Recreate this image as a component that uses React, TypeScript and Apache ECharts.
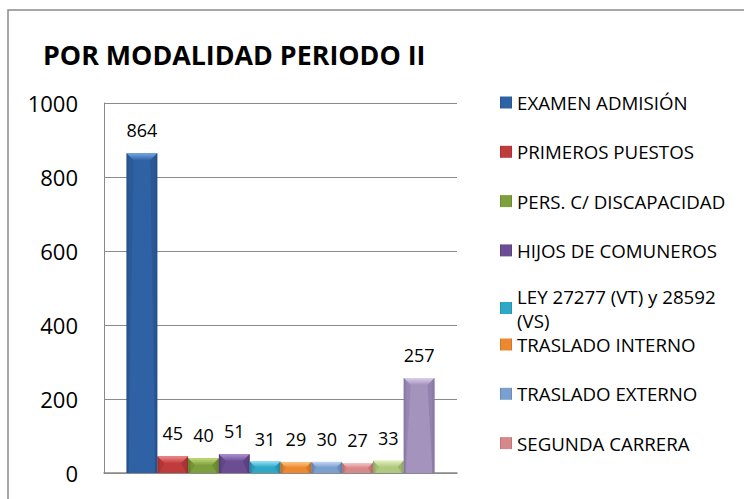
import React, { useEffect, useRef } from "react";
import * as echarts from "echarts";

const TITLE = "POR MODALIDAD PERIODO II";
const seriesNames = [
  "EXAMEN ADMISIÓN",
  "PRIMEROS PUESTOS",
  "PERS. C/ DISCAPACIDAD",
  "HIJOS DE COMUNEROS",
  "LEY 27277 (VT) y 28592 (VS)",
  "TRASLADO INTERNO",
  "TRASLADO EXTERNO",
  "SEGUNDA CARRERA",
  "DEPORTISTAS CALIFICADOS",
  "CENTRO PREUNIVERSITARIO",
];
const seriesValues = [864, 45, 40, 51, 31, 29, 30, 27, 33, 257];
const yTicks = { min: 0, max: 1000, interval: 200 };

const bodyColors = ["#2E62A5", "#BF3B3C", "#7EA03C", "#6B4D94", "#2EA8C6", "#EC8930", "#7B9FCF", "#D7888A", "#B0C97F", "#A493BD"];
const topColors = ["#74A5E6", "#F08A8A", "#C0DD78", "#AE93D6", "#8EE0F4", "#FDC482", "#C0D7F4", "#F8C4C4", "#E2F0BC", "#DDD1EA"];
const edgeColors = ["#244E85", "#972D2E", "#5F7A2C", "#523A73", "#23839B", "#BC6A22", "#5E7DA6", "#B1696B", "#8BA063", "#8372A0"];

const CAT_GAP = 0.1275;
const FONT = "'Open Sans', 'Liberation Sans', sans-serif";

export default function App() {
  const ref = useRef<HTMLDivElement>(null);
  useEffect(() => {
    document.body.style.margin = "0";
    if (!ref.current) return;
    const chart = echarts.init(ref.current, undefined, { renderer: "svg" });
    const n = seriesValues.length;

    const barSeries = seriesValues.map((v, i) => ({
      type: "bar",
      name: seriesNames[i],
      data: [v],
      barGap: "0%",
      barCategoryGap: CAT_GAP * 100 + "%",
      itemStyle: {
        color: new echarts.graphic.LinearGradient(0, 0, 1, 0, [
          { offset: 0, color: edgeColors[i] },
          { offset: 0.1, color: bodyColors[i] },
          { offset: 0.9, color: bodyColors[i] },
          { offset: 1, color: edgeColors[i] },
        ]),
      },
      label: {
        show: true,
        position: "top",
        distance: 14,
        color: "#000",
        fontSize: 18,
        fontFamily: FONT,
      },
      z: 2,
    }));

    const bevel = {
      type: "custom",
      silent: true,
      z: 3,
      data: seriesValues.map((v, i) => [0, v, i]),
      encode: { x: 0, y: 1 },
      renderItem: (params: any, api: any) => {
        const i = api.value(2);
        const v = api.value(1);
        const top = api.coord([0, v]);
        const base = api.coord([0, 0]);
        const band = api.size([1, 0])[0];
        const total = band * (1 - CAT_GAP);
        const w = total / n;
        const x0 = top[0] - total / 2 + i * w;
        const x1 = x0 + w;
        const yT = top[1];
        const b = Math.min(7, (base[1] - yT) / 2);
        return {
          type: "group",
          children: [
            {
              type: "polygon",
              shape: { points: [[x0, yT], [x1, yT], [x1 - b, yT + b], [x0 + b, yT + b]] },
              style: {
                fill: new echarts.graphic.LinearGradient(0, 0, 0, 1, [
                  { offset: 0, color: topColors[i] },
                  { offset: 1, color: bodyColors[i] },
                ]),
              },
            },
            {
              type: "polygon",
              shape: { points: [[x0, yT], [x0 + b, yT + b], [x0 + 2, base[1]], [x0, base[1]]] },
              style: { fill: edgeColors[i], opacity: 0.35 },
            },
            {
              type: "polygon",
              shape: { points: [[x1, yT], [x1 - b, yT + b], [x1 - 2, base[1]], [x1, base[1]]] },
              style: { fill: edgeColors[i], opacity: 0.5 },
            },
          ],
        };
      },
    };

    const legendCommon = {
      orient: "vertical",
      left: 500,
      padding: 0,
      icon: "rect",
      itemWidth: 12,
      itemHeight: 12,
      itemGap: 30.3,
      selectedMode: false,
      textStyle: { color: "#000", fontSize: 18.7, lineHeight: 18, fontFamily: FONT },
    };

    chart.setOption({
      animation: false,
      backgroundColor: "#fff",
      title: {
        text: TITLE,
        left: 43,
        top: 41,
        padding: 0,
        textStyle: { color: "#000", fontSize: 26.8, lineHeight: 26, fontWeight: "bold", fontFamily: FONT },
      },
      legend: [
        { ...legendCommon, top: 93, data: seriesNames.slice(0, 4) },
        {
          ...legendCommon,
          top: 272,
          data: seriesNames.slice(4, 5),
          formatter: () => "LEY 27277 (VT) y 28592\n(VS)",
          textStyle: { ...legendCommon.textStyle, lineHeight: 24, padding: [24, 0, 0, 0] },
        },
        { ...legendCommon, top: 335, data: seriesNames.slice(5, 8) },
      ],
      grid: { left: 104, right: 287, top: 103, bottom: 26, containLabel: false },
      xAxis: {
        type: "category",
        data: [""],
        axisTick: { show: false },
        axisLabel: { show: false },
        axisLine: { show: true, lineStyle: { color: "#8a8a8a", width: 1.5 } },
      },
      yAxis: {
        type: "value",
        min: yTicks.min,
        max: yTicks.max,
        interval: yTicks.interval,
        axisLine: { show: true, lineStyle: { color: "#8a8a8a", width: 1 } },
        axisTick: { show: false },
        axisLabel: {
          color: "#000",
          fontSize: 22,
          margin: 26,
          fontFamily: FONT,
          formatter: (val: number) => String(val),
        },
        splitLine: { lineStyle: { color: "#8a8a8a", width: 1 } },
      },
      graphic: [
        {
          type: "rect",
          shape: { x: 8, y: 10, width: 1000, height: 1000 },
          style: { fill: "none", stroke: "#8a8a8a", lineWidth: 1.5 },
          silent: true,
        },
      ],
      series: [...barSeries, bevel],
    });
    return () => chart.dispose();
  }, []);
  return <div ref={ref} style={{ width: 744, height: 499 }} />;
}
